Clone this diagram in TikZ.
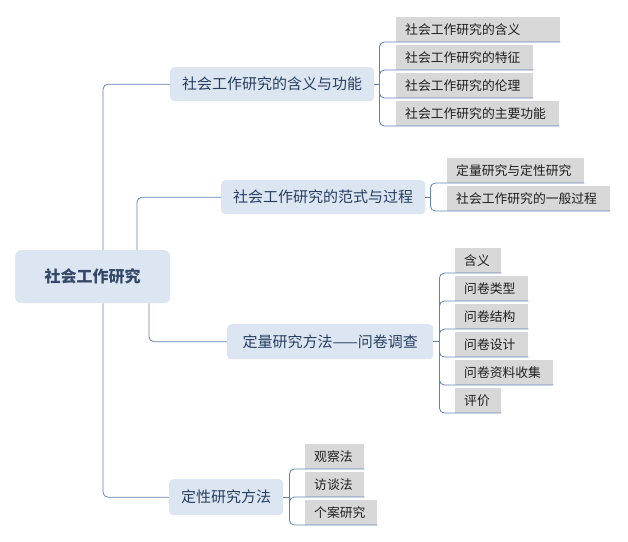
\documentclass[tikz,border=0pt]{standalone}
\usepackage{fontspec}
\setmainfont{Noto Sans CJK SC}
\definecolor{conn}{RGB}{96,130,180}
\definecolor{topicfill}{RGB}{220,230,242}
\definecolor{leaffill}{RGB}{216,216,216}
\definecolor{topictext}{RGB}{40,62,96}
\definecolor{roottext}{RGB}{52,72,104}
\definecolor{leaftext}{RGB}{30,30,30}
\tikzset{
  rootbox/.style={fill=topicfill, rounded corners=6pt, text=roottext,
    font=\fontsize{16}{18}\selectfont\bfseries, minimum width=155pt, minimum height=53pt, inner sep=0pt},
  topicbox/.style={fill=topicfill, rounded corners=4pt, text=topictext,
    font=\fontsize{15}{17}\selectfont, minimum height=34pt, inner sep=0pt},
  leafbox/.style={fill=leaffill, text=leaftext, font=\fontsize{12.8}{15}\selectfont,
    inner xsep=9pt, inner ysep=0pt, minimum height=25pt, text width=#1, align=left, anchor=south west},
  link/.style={draw=conn, line width=0.8pt, rounded corners=5pt},
}
\begin{document}
\begin{tikzpicture}[x=1pt, y=-1pt]
\useasboundingbox (0,0) rectangle (628,541);

% root
\node[rootbox, anchor=north west] (root) at (15,250) {社会工作研究};

% level-1 topics
\node[topicbox, anchor=north west, minimum width=204pt] (t1) at (170,67) {社会工作研究的含义与功能};
\node[topicbox, anchor=north west, minimum width=204pt] (t2) at (221,180) {社会工作研究的范式与过程};
\node[topicbox, anchor=north west, minimum width=206pt, minimum height=35pt] (t3) at (227,324) {定量研究方法——问卷调查};
\node[topicbox, anchor=north west, minimum width=114pt, minimum height=36pt] (t4) at (169,479) {定性研究方法};

% root connectors
\draw[link] ([xshift=88pt]root.north west) |- (t1.west);
\draw[link] ([xshift=122pt]root.north west) |- (t2.west);
\draw[link] ([xshift=134pt]root.south west) |- (t3.west);
\draw[link] ([xshift=88pt]root.south west) |- (t4.west);

% leaves of t1
\node[leafbox=146pt] (a1) at (396,42) {社会工作研究的含义};
\node[leafbox=119pt] (a2) at (396,70) {社会工作研究的特征};
\node[leafbox=119pt] (a3) at (396,98) {社会工作研究的伦理};
\node[leafbox=145pt] (a4) at (396,126) {社会工作研究的主要功能};
\draw[link] (t1.east) -- ++(5,0) coordinate (b1);
\foreach \n in {a1,a2,a3,a4} \draw[link] (b1) |- (\n.south east);

% leaves of t2
\node[leafbox=119pt] (c1) at (447,183) {定量研究与定性研究};
\node[leafbox=145pt] (c2) at (447,211) {社会工作研究的一般过程};
\draw[link] (t2.east) -- ++(5,0) coordinate (b2);
\foreach \n in {c1,c2} \draw[link] (b2) |- (\n.south east);

% leaves of t3
\node[leafbox=28pt] (d1) at (455,273) {含义};
\node[leafbox=55pt] (d2) at (455,301) {问卷类型};
\node[leafbox=55pt] (d3) at (455,329) {问卷结构};
\node[leafbox=55pt] (d4) at (455,357) {问卷设计};
\node[leafbox=80pt] (d5) at (455,385) {问卷资料收集};
\node[leafbox=28pt] (d6) at (455,413) {评价};
\draw[link] (t3.east) -- ++(6,0) coordinate (b3);
\foreach \n in {d1,d2,d3,d4,d5,d6} \draw[link] (b3) |- (\n.south east);

% leaves of t4
\node[leafbox=41pt] (e1) at (305,469) {观察法};
\node[leafbox=41pt] (e2) at (305,497) {访谈法};
\node[leafbox=54pt] (e3) at (305,525) {个案研究};
\draw[link] (t4.east) -- ++(6,0) coordinate (b4);
\foreach \n in {e1,e2,e3} \draw[link] (b4) |- (\n.south east);
\end{tikzpicture}
\end{document}
